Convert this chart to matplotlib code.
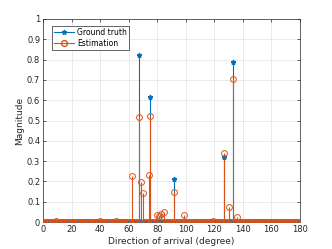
import numpy as np
import matplotlib
matplotlib.use('Agg')
import matplotlib.pyplot as plt

angles = np.arange(0, 181)

gt_doa = [67, 75, 92, 127, 133]
gt_mag = [0.82, 0.615, 0.21, 0.32, 0.79]

est_doa = [9, 40, 51, 62, 67, 69, 70, 74, 75, 80, 81, 83, 85, 92, 99, 119, 127, 130, 133, 136]
est_mag = [0.005, 0.006, 0.004, 0.228, 0.515, 0.195, 0.145, 0.232, 0.52, 0.035, 0.028,
           0.042, 0.048, 0.15, 0.037, 0.005, 0.342, 0.075, 0.705, 0.027]

gt = np.zeros(len(angles))
gt[gt_doa] = gt_mag
est = np.zeros(len(angles))
est[est_doa] = est_mag

blue = '#0072BD'
orange = '#D95319'

plt.rcParams['font.family'] = 'DejaVu Sans'
fig = plt.figure(figsize=(3.32, 2.49), dpi=100)
ax = fig.add_axes([0.1295, 0.108, 0.774, 0.816])

ax.vlines(angles, 0, gt, color=blue, lw=0.8, zorder=3)
ax.plot(angles, gt, ls='none', marker='*', ms=3.5, color=blue, zorder=4)
ax.vlines(angles, 0, est, color=orange, lw=0.8, zorder=3)
ax.plot(angles, est, ls='none', marker='o', ms=4.2, mfc='none', mec=orange, mew=0.7, zorder=5)

# legend handles
l1, = ax.plot([], [], color=blue, lw=0.8, marker='*', ms=3.5)
l2, = ax.plot([], [], color=orange, lw=0.8, marker='o', ms=4.2, mfc='none')
leg = ax.legend([l1, l2], ['Ground truth', 'Estimation'], loc='upper left',
                bbox_to_anchor=(0.02, 0.985), fontsize=5.5, fancybox=False,
                framealpha=1, edgecolor='#262626', handlelength=2.6,
                borderpad=0.3, labelspacing=0.2, handletextpad=0.4)
leg.get_frame().set_linewidth(0.5)

ax.set_xlim(0, 180)
ax.set_ylim(0, 1)
ax.set_xticks(np.arange(0, 181, 20))
ax.set_yticks(np.arange(0, 1.01, 0.1))
ax.set_yticklabels(['0', '0.1', '0.2', '0.3', '0.4', '0.5', '0.6', '0.7', '0.8', '0.9', '1'])
ax.grid(True, color='#e6e6e6', lw=0.6)
ax.set_axisbelow(True)
ax.tick_params(direction='in', length=2.5, width=0.5, labelsize=6, colors='#262626',
               top=True, right=True, pad=2)
for s in ax.spines.values():
    s.set_linewidth(0.5)
    s.set_color('#262626')
ax.set_xlabel('Direction of arrival (degree)', fontsize=6.5, color='#262626', labelpad=2)
ax.set_ylabel('Magnitude', fontsize=6.5, color='#262626', labelpad=2)

fig.savefig('out.png', dpi=100)
